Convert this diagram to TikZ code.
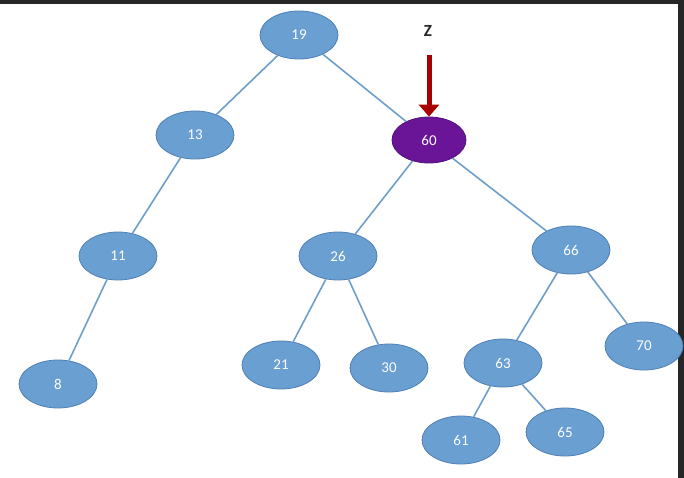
\documentclass[tikz,border=0pt]{standalone}
\usepackage{fontspec}
\setmainfont{Carlito}
\usetikzlibrary{shapes.geometric,arrows.meta}
\definecolor{nfill}{HTML}{6A9FD2}
\definecolor{nedge}{HTML}{4F7FB5}
\definecolor{lcol}{HTML}{6E9FCB}
\definecolor{zpurp}{HTML}{6A1597}
\begin{document}
\begin{tikzpicture}[x=1pt,y=-1pt,
  nd/.style={ellipse,draw=nedge,fill=nfill,line width=0.8pt,minimum width=78pt,minimum height=48pt,inner sep=0pt,text=white,font=\fontsize{15}{15}\selectfont},
  ln/.style={draw=lcol,line width=1.6pt}]
\useasboundingbox (0,0) rectangle (684,478);
\fill[white] (0,0) rectangle (684,478);
\fill[black!85] (0,0) rectangle (684,4);
\fill[black!85] (678,0) rectangle (684,478);
\node[nd] (n19) at (299,35) {19};
\node[nd] (n13) at (195,135) {13};
\node[nd,fill=zpurp,draw=zpurp!80!black,minimum width=74pt,minimum height=46pt] (n60) at (429,140) {60};
\node[nd] (n11) at (118,256) {11};
\node[nd] (n26) at (338,256) {26};
\node[nd] (n66) at (571,250) {66};
\node[nd] (n8) at (58,384) {8};
\node[nd] (n21) at (281,365) {21};
\node[nd] (n30) at (389,368) {30};
\node[nd] (n63) at (503,363) {63};
\node[nd] (n70) at (644,346) {70};
\node[nd] (n61) at (461,440) {61};
\node[nd] (n65) at (565,432) {65};
\begin{scope}[on background layer/.style={}]
\end{scope}
\path[ln] (n19) -- (n13) (n19) -- (n60) (n13) -- (n11) (n11) -- (n8)
  (n60) -- (n26) (n60) -- (n66) (n26) -- (n21) (n26) -- (n30)
  (n66) -- (n63) (n66) -- (n70) (n63) -- (n61) (n63) -- (n65);
\node[font=\bfseries\fontsize{17}{17}\selectfont,text=black!85] (z) at (428,31) {Z};
\coordinate (za) at (429,55);
\draw[line width=5pt,draw=red!65!black,-{Triangle[length=12pt,width=20pt]}] (za) -- (n60.north);
\end{tikzpicture}
\end{document}
